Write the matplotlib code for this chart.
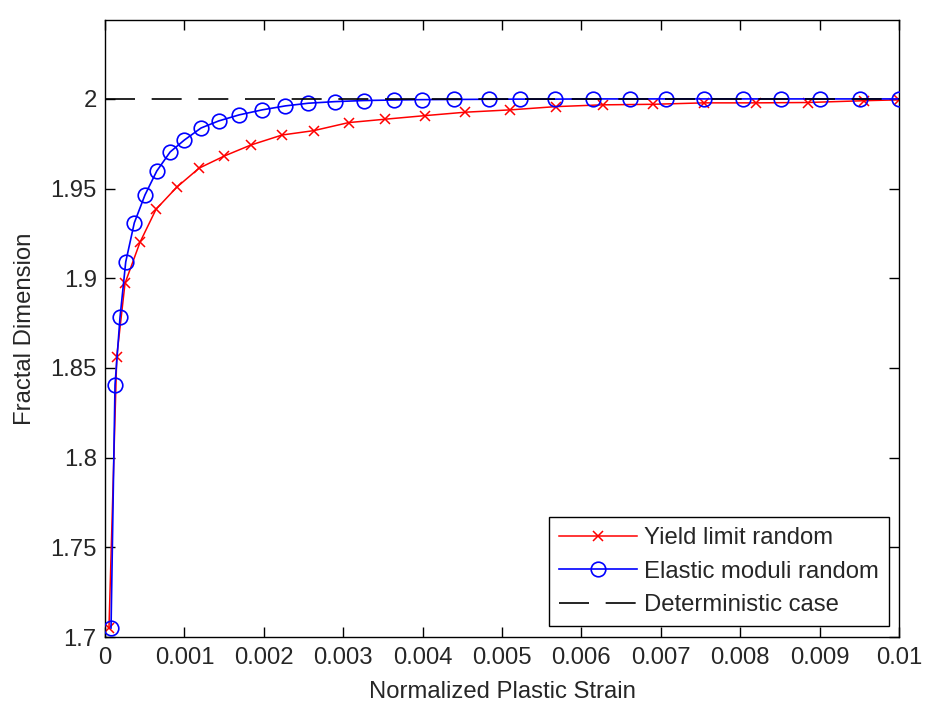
import matplotlib
matplotlib.use("Agg")
import matplotlib.pyplot as plt

# Normalized plastic strain vs. fractal dimension
yield_strain = [0.00005, 0.000148, 0.000252, 0.000441, 0.000643, 0.000904,
                0.001185, 0.001504, 0.001837, 0.002232, 0.002627, 0.003068,
                0.003531, 0.004035, 0.00454, 0.005107, 0.005675, 0.006267,
                0.006898, 0.00754, 0.008197, 0.00885, 0.009556, 0.01]
yield_dim = [1.705, 1.8563, 1.8972, 1.9201, 1.9385, 1.9508,
             1.9614, 1.9682, 1.9743, 1.9799, 1.9823, 1.9868,
             1.9887, 1.9907, 1.9926, 1.9939, 1.9957, 1.9967,
             1.9970, 1.9978, 1.9978, 1.9980, 1.9990, 1.9995]

elastic_strain = [0.000076, 0.000126, 0.000189, 0.000261, 0.000369, 0.000504,
                  0.000652, 0.00082, 0.00100, 0.00121, 0.00143, 0.00169,
                  0.00198, 0.00227, 0.00256, 0.00290, 0.00326, 0.00364,
                  0.00399, 0.00439, 0.00483, 0.00523, 0.00567, 0.00614,
                  0.00661, 0.00707, 0.00755, 0.00804, 0.00852, 0.00900,
                  0.00951, 0.01000]
elastic_dim = [1.705, 1.8405, 1.8782, 1.9091, 1.9309, 1.9465,
               1.9598, 1.9704, 1.9771, 1.9838, 1.9877, 1.9911,
               1.9939, 1.9961, 1.9976, 1.9985, 1.9991, 1.9994,
               1.9996, 1.9997, 1.9998, 1.9999, 1.9999, 2.0,
               2.0, 2.0, 2.0, 2.0, 2.0, 2.0,
               2.0, 2.0]

determ_strain = [0.0, 0.01]
determ_dim = [2.0, 2.0]

labels = ["Yield limit random", "Elastic moduli random", "Deterministic case"]

xticks = [0, 0.001, 0.002, 0.003, 0.004, 0.005, 0.006, 0.007, 0.008, 0.009, 0.01]
xtick_labels = ["0", "0.001", "0.002", "0.003", "0.004", "0.005",
                "0.006", "0.007", "0.008", "0.009", "0.01"]
yticks = [1.7, 1.75, 1.8, 1.85, 1.9, 1.95, 2.0]
ytick_labels = ["1.7", "1.75", "1.8", "1.85", "1.9", "1.95", "2"]

plt.rcParams["font.family"] = ["Liberation Sans", "DejaVu Sans"]
FS = 17.2
TXT = "#262626"

W, H = 926, 707
fig = plt.figure(figsize=(W / 100, H / 100), dpi=100, facecolor="white")
ax = fig.add_axes([105 / W, 1 - 637 / H, 794 / W, 617 / H])

ax.plot(yield_strain, yield_dim, color=(1, 0, 0), lw=1.1, marker="x",
        ms=6.5, mew=1.1, label=labels[0], zorder=2)
ax.plot(elastic_strain, elastic_dim, color=(0, 0, 1), lw=1.2, marker="o",
        ms=10.5, mew=1.2, mfc="none", label=labels[1], zorder=3)
det, = ax.plot(determ_strain, determ_dim, color="black", lw=1.2,
               label=labels[2], zorder=4)
det.set_dashes((18, 10))

ax.set_xlim(0, 0.01)
ax.set_ylim(1.7, 2.044)
ax.set_xticks(xticks)
ax.set_xticklabels(xtick_labels)
ax.set_yticks(yticks)
ax.set_yticklabels(ytick_labels)

ax.tick_params(axis="both", direction="in", length=7.2, width=1.0,
               top=True, right=True, labelsize=FS, labelcolor=TXT, pad=6)
ax.tick_params(axis="x", pad=7)
for sp in ax.spines.values():
    sp.set_linewidth(1.0)
    sp.set_color("black")

ax.set_xlabel("Normalized Plastic Strain", fontsize=FS, color=TXT, labelpad=9)
ax.set_ylabel("Fractal Dimension", fontsize=FS, color=TXT, labelpad=10)

leg = ax.legend(loc="lower right", bbox_to_anchor=(889 / W, 1 - 626 / H),
                bbox_transform=fig.transFigure, borderaxespad=0,
                fontsize=FS, handlelength=3.3, handletextpad=0.28,
                labelspacing=0.48, borderpad=0.42, fancybox=False,
                framealpha=1, edgecolor="black")
leg.get_frame().set_linewidth(1.0)
for t in leg.get_texts():
    t.set_color(TXT)
leg.get_lines()[2].set_dashes((18, 10))

fig.savefig("out.png", dpi=100, facecolor="white")
